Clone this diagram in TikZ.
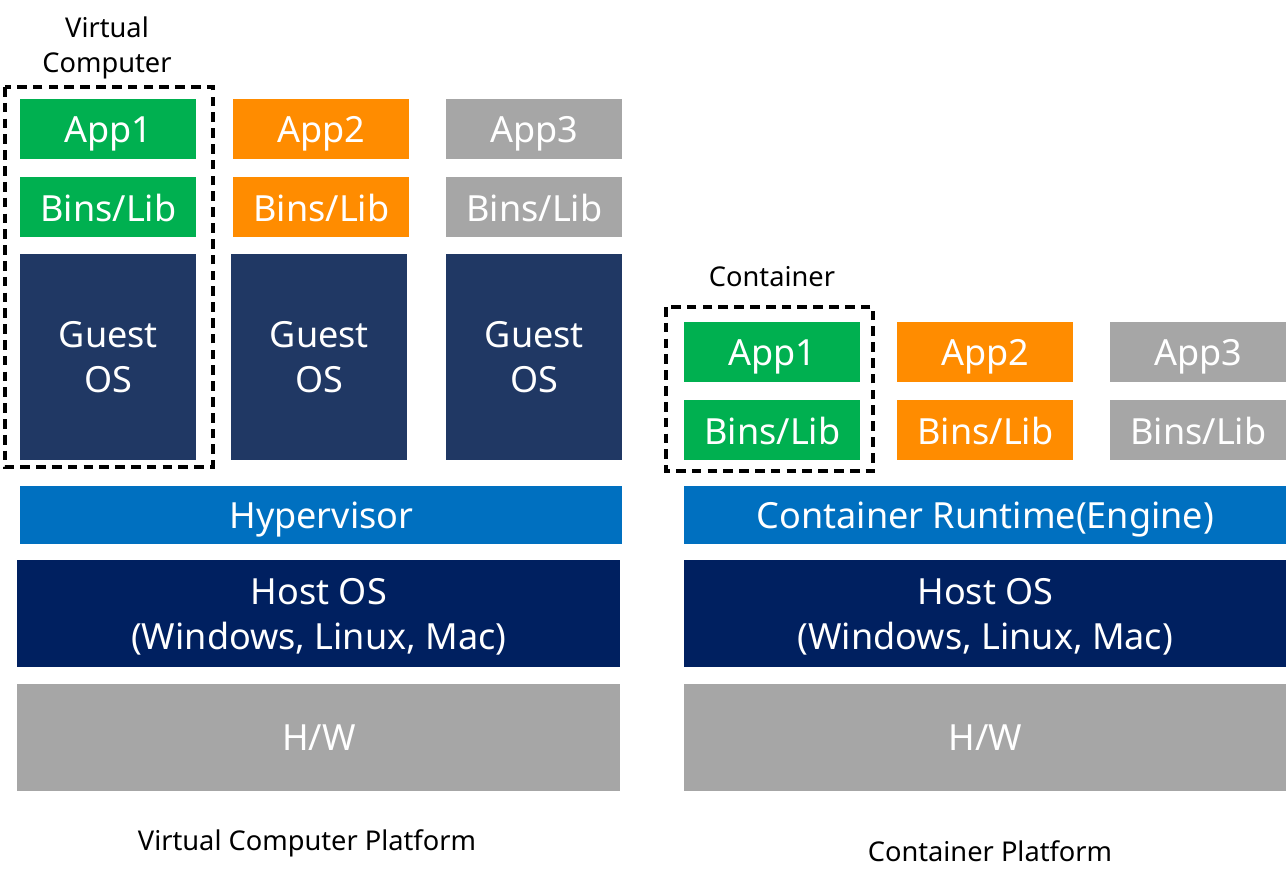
\documentclass[tikz,border=0pt]{standalone}
\usepackage{fontspec}
\setmainfont{Noto Sans}
\usepackage{xcolor}
\usetikzlibrary{positioning}
\definecolor{appgreen}{RGB}{0,176,80}
\definecolor{apporange}{RGB}{255,140,0}
\definecolor{appgray}{RGB}{166,166,166}
\definecolor{guestblue}{RGB}{32,56,100}
\definecolor{hyperblue}{RGB}{0,112,192}
\definecolor{hostblue}{RGB}{0,32,96}
\tikzset{layer/.style={anchor=north west, inner sep=0pt, text=white, align=center,
		text depth=0pt, font=\fontsize{20.5}{25.5}\selectfont},
	appbox/.style={layer, minimum width=176*0.02cm, minimum height=60*0.02cm},
	guestbox/.style={layer, fill=guestblue, minimum width=176*0.02cm, minimum height=206*0.02cm},
	wide/.style={layer, minimum width=602*0.02cm, minimum height=58*0.02cm},
	tall/.style={layer, minimum width=603*0.02cm, minimum height=107*0.02cm},
	caption/.style={align=center, font=\fontsize{15.5}{20}\selectfont},
	dashbox/.style={draw=black, line width=1.9pt, dash pattern=on 5.5pt off 3.5pt}}

\begin{document}
\begin{tikzpicture}[x=0.02cm, y=-0.02cm]
\useasboundingbox (0,0) rectangle (1287,885);

% Virtual computer platform
\node[caption] (vclabel) at (107,48) {Virtual\\Computer};
\draw[dashbox] (5,87) rectangle (213,467);

% apps
\node[appbox, fill=appgreen] (vapp1) at (20,99) {App1};
\node[appbox, fill=apporange] (vapp2) at (233,99) {App2};
\node[appbox, fill=appgray] (vapp3) at (446,99) {App3};

% bins
\node[appbox, fill=appgreen] (vbins1) at (20,177) {Bins/Lib};
\node[appbox, fill=apporange] (vbins2) at (233,177) {Bins/Lib};
\node[appbox, fill=appgray] (vbins3) at (446,177) {Bins/Lib};

% guest os
\node[guestbox] (vguest1) at (20,254) {Guest\\OS};
\node[guestbox] (vguest2) at (231,254) {Guest\\OS};
\node[guestbox] (vguest3) at (446,254) {Guest\\OS};

% bottom layers
\node[wide, fill=hyperblue] (hyper) at (20,486) {Hypervisor};
\node[tall, fill=hostblue] (vhost) at (17,560) {Host OS\\(Windows, Linux, Mac)};
\node[tall, fill=appgray] (vhw) at (17,684) {H/W};
\node[caption] (vplatform) at (307,843) {Virtual Computer Platform};

% Container platform
\node[caption] (ctlabel) at (772,277) {Container};
\draw[dashbox] (666,307) rectangle (873,471);

% apps
\node[appbox, fill=appgreen] (capp1) at (684,322) {App1};
\node[appbox, fill=apporange] (capp2) at (897,322) {App2};
\node[appbox, fill=appgray] (capp3) at (1110,322) {App3};

% bins
\node[appbox, fill=appgreen] (cbins1) at (684,400) {Bins/Lib};
\node[appbox, fill=apporange] (cbins2) at (897,400) {Bins/Lib};
\node[appbox, fill=appgray] (cbins3) at (1110,400) {Bins/Lib};

% bottom layers
\node[wide, fill=hyperblue] (runtime) at (684,486) {Container Runtime(Engine)};
\node[tall, fill=hostblue, minimum width=602*0.02cm] (chost) at (684,560) {Host OS\\(Windows, Linux, Mac)};
\node[tall, fill=appgray, minimum width=602*0.02cm] (chw) at (684,684) {H/W};
\node[caption] (cplatform) at (990,851) {Container Platform};
\end{tikzpicture}
\end{document}
